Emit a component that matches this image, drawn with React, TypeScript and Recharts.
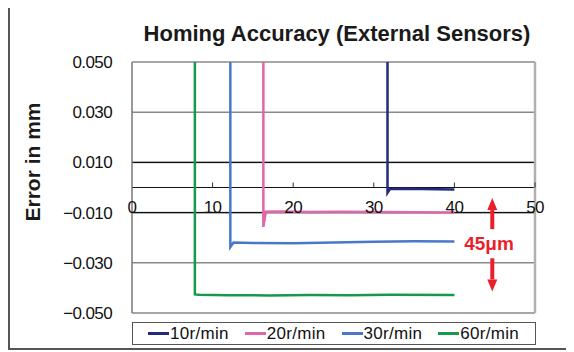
import React from "react";
import { LineChart, Line, XAxis, YAxis, CartesianGrid, ReferenceLine, ReferenceDot, Legend } from "recharts";

// values (x = time, y = error in mm)
const rpm10 = [
  { x: 31.7, y: 0.06 },
  { x: 31.7, y: -0.0021 },
  { x: 32.0, y: -0.0006 },
  { x: 34, y: -0.0005 },
  { x: 36, y: -0.0006 },
  { x: 38, y: -0.0007 },
  { x: 40, y: -0.0008 },
];
const rpm20 = [
  { x: 16.3, y: 0.06 },
  { x: 16.3, y: -0.0157 },
  { x: 16.6, y: -0.0097 },
  { x: 18, y: -0.0096 },
  { x: 22, y: -0.0098 },
  { x: 26, y: -0.0097 },
  { x: 30, y: -0.0098 },
  { x: 35, y: -0.0099 },
  { x: 40, y: -0.0100 },
];
const rpm30 = [
  { x: 12.2, y: 0.06 },
  { x: 12.2, y: -0.0237 },
  { x: 12.6, y: -0.0219 },
  { x: 15, y: -0.0221 },
  { x: 20, y: -0.0222 },
  { x: 25, y: -0.0219 },
  { x: 30, y: -0.0216 },
  { x: 35, y: -0.0214 },
  { x: 40, y: -0.0215 },
];
const rpm60 = [
  { x: 7.8, y: 0.06 },
  { x: 7.8, y: -0.0426 },
  { x: 8.3, y: -0.0427 },
  { x: 12, y: -0.0429 },
  { x: 17, y: -0.0430 },
  { x: 22, y: -0.0428 },
  { x: 27, y: -0.0429 },
  { x: 32, y: -0.0427 },
  { x: 40, y: -0.0428 },
];

const series = [
  { name: "10r/min", data: rpm10, color: "#232a7e" },
  { name: "20r/min", data: rpm20, color: "#e065aa" },
  { name: "30r/min", data: rpm30, color: "#4a78c8" },
  { name: "60r/min", data: rpm60, color: "#15994c" },
];

const xTicks = [0, 10, 20, 30, 40, 50];
const yTicks = [-0.05, -0.03, -0.01, 0.01, 0.03, 0.05];
const darkGrid = [0.01, 0, -0.01];

const FONT = "'Liberation Sans', Arial, sans-serif";
const RED = "#ea1f2b";

const fmtY = (v: number) => (v < 0 ? "\u2212" : "") + Math.abs(v).toFixed(3);

const Arrow = (p: any) => {
  const { x1, y1, x2, y2 } = p;
  const dir = y2 < y1 ? 1 : -1; // tip at (x2,y2)
  const head = 12;
  return (
    <g>
      <line x1={x1} y1={y1} x2={x2} y2={y2 + dir * head} stroke={RED} strokeWidth={4} />
      <polygon points={`${x2},${y2} ${x2 - 5},${y2 + dir * head} ${x2 + 5},${y2 + dir * head}`} fill={RED} />
    </g>
  );
};

const renderLegend = () => (
  <div style={{ display: "flex", alignItems: "center", height: "100%", paddingLeft: 15, fontFamily: FONT, fontSize: 17, color: "#111" }}>
    {series.map((s) => (
      <div key={s.name} style={{ display: "flex", alignItems: "center", width: 97.5 }}>
        <span style={{ display: "inline-block", width: 21, height: 3, background: s.color, marginRight: 1 }} />
        <span style={{ letterSpacing: 0.3 }}>{s.name}</span>
      </div>
    ))}
  </div>
);

export default function App() {
  return (
    <div
      style={{
        position: "relative",
        width: 566,
        height: 345,
        marginTop: -3,
        borderTop: "2px solid #555",
        borderLeft: "2px solid #555",
        borderBottom: "2px solid #555",
        boxSizing: "border-box",
        fontFamily: FONT,
      }}
    >
      <div style={{ position: "absolute", left: 77, width: 500, top: 16, textAlign: "center", fontSize: 22, lineHeight: "22px", fontWeight: "bold", color: "#1a1a1a" }}>
        Homing Accuracy (External Sensors)
      </div>
      <div
        style={{
          position: "absolute",
          left: -77,
          top: 143,
          width: 200,
          height: 24,
          lineHeight: "24px",
          textAlign: "center",
          transform: "rotate(-90deg)",
          fontSize: 21,
          fontWeight: "bold",
          color: "#1a1a1a",
        }}
      >
        Error in mm
      </div>
      <div style={{ position: "absolute", left: 0, top: 0 }}>
        <LineChart width={556} height={340} margin={{ top: 55, right: 31, bottom: 34, left: 62 }}>
          <CartesianGrid vertical={false} stroke="#8a8a8a" strokeWidth={1.5} />
          <XAxis type="number" dataKey="x" domain={[0, 50]} ticks={xTicks} hide />
          <YAxis
            type="number"
            domain={[-0.05, 0.05]}
            ticks={yTicks}
            allowDataOverflow
            width={60}
            tickLine={false}
            tickSize={0}
            tickMargin={20}
            axisLine={{ stroke: "#777", strokeWidth: 1.5 }}
            tick={{ fontSize: 17, fill: "#111", fontFamily: FONT, letterSpacing: -0.6 }}
            tickFormatter={fmtY}
          />
          {darkGrid.map((v) => (
            <ReferenceLine key={v} y={v} stroke="#111" strokeWidth={1.2} />
          ))}
          <ReferenceLine x={50} stroke="#b0b0b0" strokeWidth={2.5} />
          {xTicks.map((v) => (
            <ReferenceDot
              key={v}
              x={v}
              y={0}
              r={0}
              shape={(p: any) => (
                <g>
                  {v > 0 && <line x1={p.cx} y1={p.cy} x2={p.cx} y2={p.cy - 5} stroke="#333" strokeWidth={1} />}
                  <text x={p.cx} y={p.cy + 20} textAnchor="middle" dominantBaseline="central" fontSize={17} fill="#111" fontFamily={FONT} letterSpacing={-0.6}>
                    {v}
                  </text>
                </g>
              )}
            />
          ))}
          {series.map((s) => (
            <Line
              key={s.name}
              data={s.data}
              dataKey="y"
              name={s.name}
              stroke={s.color}
              strokeWidth={2.5}
              dot={false}
              isAnimationActive={false}
            />
          ))}
          <ReferenceLine segment={[{ x: 44.7, y: -0.0166 }, { x: 44.7, y: -0.0042 }]} shape={Arrow} />
          <ReferenceLine segment={[{ x: 44.7, y: -0.0282 }, { x: 44.7, y: -0.0414 }]} shape={Arrow} />
          <ReferenceDot
            x={44.3}
            y={-0.0222}
            r={0}
            shape={(p: any) => (
              <text x={p.cx} y={p.cy} textAnchor="middle" dominantBaseline="central" fontSize={19} fontWeight="bold" fill={RED} fontFamily={FONT}>
                45μm
              </text>
            )}
          />
          <Legend
            layout="horizontal"
            verticalAlign="middle"
            align="center"
            content={renderLegend}
            wrapperStyle={{
              position: "absolute",
              left: 122,
              top: 315,
              width: 404,
              height: 23,
              border: "1.5px solid #555",
              boxSizing: "border-box",
              background: "#fff",
            }}
          />
        </LineChart>
      </div>
    </div>
  );
}
